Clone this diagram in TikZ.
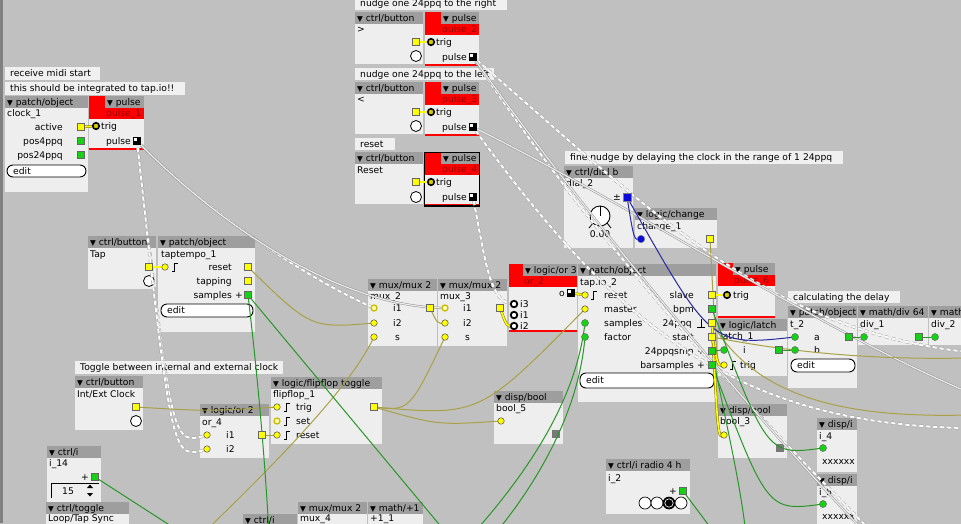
\documentclass[tikz,border=0pt]{standalone}
\usepackage{fontspec}
\setmainfont{DejaVu Sans}
\usetikzlibrary{calc}
\pgfdeclarelayer{bg}
\pgfdeclarelayer{top}
\pgfsetlayers{bg,main,top}
\definecolor{patchbg}{RGB}{192,192,192}
\definecolor{objfill}{RGB}{238,238,238}
\definecolor{hdrfill}{RGB}{158,158,158}
\definecolor{cmtfill}{RGB}{240,240,240}
\definecolor{axred}{RGB}{255,0,0}
\definecolor{idred}{RGB}{150,0,0}
\definecolor{portY}{RGB}{255,255,0}
\definecolor{portG}{RGB}{20,210,20}
\definecolor{portB}{RGB}{10,10,220}
\definecolor{wireO}{RGB}{168,162,70}
\definecolor{wireG}{RGB}{40,150,40}
\definecolor{wireB}{RGB}{40,40,160}
\definecolor{edgeY}{RGB}{130,120,0}
\definecolor{ringY}{RGB}{200,190,0}
\definecolor{trigY}{RGB}{215,200,0}
\definecolor{dispsq}{RGB}{120,120,120}
\definecolor{leftstrip}{RGB}{128,128,128}

\newcommand\axfs{\fontsize{9.2}{11}\selectfont}
\newcommand\axtri{{\fontsize{7.5}{7.5}\selectfont ▼}}

\tikzset{
 ltxt/.style={anchor=base west, yshift=-3.2pt, inner sep=0pt, font=\axfs, text=black},
 rtxt/.style={anchor=base east, yshift=-3.2pt, inner sep=0pt, font=\axfs, text=black},
 ctxt/.style={anchor=base, yshift=-3.2pt, inner sep=0pt, font=\axfs, text=black},
 ptY/.style={circle, draw=black!70, fill=portY, line width=0.5pt, inner sep=0pt, minimum size=6.5pt},
 ptYo/.style={circle, draw=ringY, fill=white!70!yellow, line width=1.3pt, inner sep=0pt, minimum size=6pt},
 sqY/.style={rectangle, draw=black!60, fill=portY, line width=0.5pt, inner sep=0pt, minimum size=7pt},
 ptG/.style={circle, draw=black!60, fill=portG, line width=0.5pt, inner sep=0pt, minimum size=7pt},
 sqG/.style={rectangle, draw=black!60, fill=portG, line width=0.5pt, inner sep=0pt, minimum size=7pt},
 ptB/.style={circle, draw=black!50, fill=portB, line width=0.5pt, inner sep=0pt, minimum size=7.5pt},
 sqB/.style={rectangle, draw=black!50, fill=portB, line width=0.5pt, inner sep=0pt, minimum size=8pt},
 ptK/.style={circle, draw=black, fill=trigY, line width=1.6pt, inner sep=0pt, minimum size=6.5pt},
 ptKw/.style={circle, draw=black, fill=white, line width=1.8pt, inner sep=0pt, minimum size=6.5pt},
 sqK/.style={rectangle, fill=black, inner sep=0pt, minimum size=8pt,
   path picture={\fill[white] ([xshift=1.2pt,yshift=-1.2pt]path picture bounding box.north west) rectangle ++(3pt,-3pt);}},
 btncirc/.style={circle, draw=black, fill=white, line width=0.8pt, inner sep=0pt, minimum size=11pt},
 knobcirc/.style={circle, draw=black, fill=white, line width=0.9pt, inner sep=0pt, minimum size=20pt},
 radiocirc/.style={circle, draw=black, fill=white, line width=0.7pt, inner sep=0pt, minimum size=12pt},
 wol/.style={draw=wireO, line width=1pt},
 wgr/.style={draw=wireG, line width=1pt},
 wbl/.style={draw=wireB, line width=1pt},
 ywire/.style={draw=edgeY, double=portY, double distance=1.6pt, line width=0.5pt},
 wdash/.style={draw=white, line width=2pt, dash pattern=on 4pt off 3pt,
   preaction={draw=gray!75, line width=3pt, dash pattern=on 4pt off 3pt}},
 wgd/.style={draw=gray!85, double=gray!15, double distance=1.2pt, line width=0.5pt},
}

\newcommand\axobj[6]{%
 \begin{scope}
 \clip (#2,#3) rectangle (#4,#5);
 \fill[objfill] (#2,#3) rectangle (#4,#5);
 \fill[hdrfill] (#2,#3) rectangle (#4,{#3+12});
 \node[ltxt] (#1) at ({#2+2},{#3+6}) {\axtri\ #6};
 \end{scope}}
\newcommand\axred[8]{%
 \begin{scope}
 \clip (#2,#3) rectangle (#4,#5);
 \fill[objfill] (#2,#3) rectangle (#4,#5);
 \fill[hdrfill] (#2,#3) rectangle (#4,{#3+12});
 \fill[axred] (#2,#3) rectangle ({#2+#8},{#3+12});
 \fill[axred] (#2,{#3+12}) rectangle (#4,{#3+23});
 \node[ltxt] (#1) at ({#2+#8+2},{#3+6}) {\axtri\ #6};
 \node[ltxt, text=idred] (#1id) at ({#2+#8+1},{#3+17.5}) {#7};
 \end{scope}
 \draw[axred, line width=1.3pt] (#2,{#5-1}) -- (#4,{#5-1});}
\newcommand\axlbl[4]{\node[ltxt] (#1) at (#2,#3) {#4};}
\newcommand\axrlbl[4]{\node[rtxt] (#1) at (#2,#3) {#4};}
\newcommand\axcmt[6]{\fill[cmtfill] (#2,#3) rectangle (#4,#5); \node[ltxt] (#1) at ({#2+5},{(#3+#5)/2}) {#6};}
\newcommand\axport[4]{\node[#1] (#2) at (#3,#4) {};}
\newcommand\axbtn[3]{\node[btncirc] (#1) at (#2,#3) {};}
\newcommand\axedit[5]{\draw[fill=white, rounded corners=6pt, line width=0.9pt] (#2,#3) rectangle (#4,#5); \node[ltxt] (#1) at ({#2+6},{(#3+#5)/2}) {edit};}
\newcommand\axrise[2]{\draw[line width=0.7pt] ({#1},{#2+4}) -- ({#1+2},{#2+4}) -- ({#1+2},{#2-4}) -- ({#1+6},{#2-4});}
\newcommand\axpulse[2]{\draw[line width=0.7pt] ({#1-4},{#2+4}) -- ({#1+4},{#2+4}) ({#1},{#2+4}) -- ({#1},{#2-4});}
\newcommand\axwire[3]{\draw[#1] let \p1=(#2), \p2=(#3),
 \n1={0.5*(\x1+\x2)}, \n2={min(\y1,\y2)-0.03*(abs(\x2-\x1)+abs(\y2-\y1))}
 in (\p1) .. controls (\n1,\n2) and (\n1,\n2) .. (\p2);}

\begin{document}
\begin{tikzpicture}[x=1pt,y=-1pt]
\useasboundingbox (0,0) rectangle (961,523);
\begin{pgfonlayer}{bg}
\fill[patchbg] (-5,-5) rectangle (970,545);
\fill[leftstrip] (0,0) rectangle (2.5,523);

% comments
\axcmt{cmA}{5}{67}{100}{80}{receive midi start}
\axcmt{cmB}{5}{82}{185}{95}{this should be integrated to tap.io!!}
\axcmt{cmC}{355}{-3}{507}{10}{nudge one 24ppq to the right}
\axcmt{cmD}{355}{68}{494}{80}{nudge one 24ppq to the left}
\axcmt{cmE}{355}{138}{395}{150}{reset}
\axcmt{cmF}{565}{151}{843}{164}{fine nudge by delaying the clock in the range of 1 24ppq}
\axcmt{cmG}{75}{361}{283}{374}{Toggle between internal and external clock}
\axcmt{cmH}{788}{291}{900}{303}{calculating the delay}

% clock_1
\axobj{clkH}{5}{96}{88}{192}{patch/object}
\axlbl{clkN}{7}{113}{clock\_1}
\axrlbl{clkA}{63}{127}{active}
\axrlbl{clkB}{63}{141}{pos4ppq}
\axrlbl{clkC}{63}{155}{pos24ppq}
\axedit{clkE}{7}{165}{86}{177}

% pulse_1
\axred{pA}{89}{96}{144}{150}{pulse}{pulse\_1}{16}
\axlbl{pAT}{101}{126}{trig}
\axrlbl{pAP}{131}{141}{pulse}

% nudge right
\axobj{bRH}{355}{12}{423}{64}{ctrl/button}
\axlbl{bRN}{357}{29}{>}
\axbtn{bRc}{416}{56}
\axred{pB}{425}{12}{479}{66}{pulse}{pulse\_2}{16}
\axlbl{pBT}{436}{42}{trig}
\axrlbl{pBP}{467}{57}{pulse}

% nudge left
\axobj{bLH}{355}{82}{423}{134}{ctrl/button}
\axlbl{bLN}{357}{99}{<}
\axbtn{bLc}{416}{126}
\axred{pC}{425}{82}{479}{136}{pulse}{pulse\_3}{16}
\axlbl{pCT}{436}{112}{trig}
\axrlbl{pCP}{467}{127}{pulse}

% reset
\axobj{bSH}{355}{152}{423}{204}{ctrl/button}
\axlbl{bSN}{357}{170}{Reset}
\axbtn{bSc}{416}{197}
\axred{pD}{425}{152}{479}{206}{pulse}{pulse\_4}{16}
\draw[line width=1.4pt] (424.5,152.5) rectangle (479.5,206);
\axlbl{pDT}{436}{182}{trig}
\axrlbl{pDP}{467}{197}{pulse}

% dial
\axobj{dlH}{564}{166}{633}{248}{ctrl/dial b}
\axlbl{dlN}{566}{183}{dial\_2}
\axrlbl{dlPM}{621}{197}{±}
\node[knobcirc] (knob) at (600,216) {};
\draw[line width=0.8pt] (knob.center) -- (knob.north);
\draw[line width=0.8pt] (593,223) -- (589,228) (607,223) -- (611,228);
\node[ctxt] (dlV) at (600,234) {0.00};

% change
\axobj{chH}{635}{208}{717}{248}{logic/change}
\axlbl{chN}{637}{226}{change\_1}

% Tap
\axobj{tpH}{88}{236}{156}{289}{ctrl/button}
\axlbl{tpN}{90}{254}{Tap}
\axbtn{tpc}{149}{281}

% taptempo
\axobj{ttH}{158}{236}{255}{332}{patch/object}
\axlbl{ttN}{161}{254}{taptempo\_1}
\axrise{172}{267}
\axrlbl{ttL1}{232}{267}{reset}
\axrlbl{ttL2}{232}{281}{tapping}
\axrlbl{ttL3}{232}{295}{samples}
\axlbl{ttPl}{235}{295}{+}
\axedit{ttE}{161}{304}{253}{317}

% mux_2
\axobj{mAH}{368}{279}{437}{346}{mux/mux 2}
\axlbl{mAN}{370}{296}{mux\_2}
\axlbl{mAL1}{393}{308}{i1}
\axlbl{mAL2}{393}{323}{i2}
\axlbl{mAL3}{395}{337}{s}
% mux_3
\axobj{mBH}{438}{279}{507}{346}{mux/mux 2}
\axlbl{mBN}{440}{296}{mux\_3}
\axlbl{mBL1}{463}{308}{i1}
\axlbl{mBL2}{463}{323}{i2}
\axlbl{mBL3}{465}{337}{s}

% or_2
\axred{oB}{509}{264}{577}{332}{logic/or 3}{or\_2}{14}
\axrlbl{oBL}{565}{293}{o}
\axlbl{oBL3}{520}{304}{i3}
\axlbl{oBL1}{520}{315}{i1}
\axlbl{oBL2}{520}{326}{i2}

% tap.io
\axobj{tiH}{578}{264}{716}{402}{patch/object}
\axlbl{tiN}{580}{282}{tap.io\_2}
\axrise{591}{295}
\axlbl{tiR}{604}{295}{reset}
\axlbl{tiM}{604}{309}{master}
\axlbl{tiS}{604}{323}{samples}
\axlbl{tiF}{604}{337}{factor}
\axrlbl{tiO1}{694}{295}{slave}
\axrlbl{tiO2}{694}{309}{bpm}
\axrlbl{tiO3}{692}{323}{24ppq}
\axpulse{701}{323}
\axrlbl{tiO4}{694}{337}{start}
\axrlbl{tiO5}{694}{351}{24ppqsmp}
\axlbl{tiP5}{697}{351}{+}
\axrlbl{tiO6}{694}{365}{barsamples}
\axlbl{tiP6}{697}{365}{+}
\axedit{tiE}{580}{373}{714}{388}

% pulse_6
\axred{pF}{718}{263}{775}{318}{pulse}{pulse\_6}{15}
\axlbl{pFT}{733}{295}{trig}

% latch
\axobj{laH}{718}{319}{787}{376}{logic/latch}
\axlbl{laN}{720}{336}{latch\_1}
\axlbl{laI}{743}{350}{i}
\axrise{730}{365}
\axlbl{laT}{740}{365}{trig}

% t_2, div_1, div_2
\axobj{tbH}{788}{306}{857}{388}{patch/object}
\axlbl{tbN}{790}{324}{t\_2}
\axlbl{tbA}{814}{337}{a}
\axlbl{tbB}{814}{350}{b}
\axedit{tbE}{791}{359}{855}{372}
\axobj{dAH}{858}{306}{928}{345}{math/div 64}
\axlbl{dAN}{860}{324}{div\_1}
\axobj{dBH}{929}{306}{975}{345}{math}
\axlbl{dBN}{931}{324}{div\_2}

% bool_3
\axobj{bCH}{718}{404}{787}{458}{disp/bool}
\axlbl{bCN}{720}{421}{bool\_3}
\fill[dispsq] (776,444) rectangle (784,452);

% i_4, i_5
\axobj{iDH}{817}{418}{857}{472}{disp/i}
\axlbl{iDN}{819}{436}{i\_4}
\begin{scope}\clip (817,418) rectangle (857,472);\axlbl{iDX}{822}{461}{xxxxxx}\end{scope}
\axobj{iEH}{817}{474}{857}{535}{disp/i}
\axlbl{iEN}{819}{492}{i\_5}
\begin{scope}\clip (817,474) rectangle (857,535);\axlbl{iEX}{822}{516}{xxxxxx}\end{scope}

% bool_5
\axobj{bEH}{494}{391}{563}{444}{disp/bool}
\axlbl{bEN}{496}{408}{bool\_5}
\fill[dispsq] (552,430) rectangle (560,438);

% flipflop
\axobj{ffH}{271}{377}{382}{444}{logic/flipflop toggle}
\axlbl{ffN}{273}{394}{flipflop\_1}
\axrise{284}{407}
\axlbl{ffL1}{296}{407}{trig}
\axrise{284}{421}
\axlbl{ffL2}{296}{421}{set}
\axrise{284}{435}
\axlbl{ffL3}{296}{435}{reset}

% or_4
\axobj{oDH}{200}{404}{269}{458}{logic/or 2}
\axlbl{oDN}{202}{422}{or\_4}
\axlbl{oDL1}{226}{435}{i1}
\axlbl{oDL2}{226}{449}{i2}

% Int/Ext
\axobj{ieH}{75}{376}{143}{430}{ctrl/button}
\axlbl{ieN}{77}{394}{Int/Ext Clock}
\axbtn{iec}{136}{421}

% i_14
\axobj{iFH}{47}{446}{101}{503}{ctrl/i}
\axlbl{iFN}{49}{463}{i\_14}
\axrlbl{iFP}{89}{477}{+}
\draw[line width=0.8pt] (51,498) -- (51,483) -- (99,483);
\axlbl{iFV}{62}{491}{15}
\fill (87,488) -- (93,488) -- (90,484.5) -- cycle;
\fill (87,493) -- (93,493) -- (90,496.5) -- cycle;

% toggle and bottom row
\axobj{tgH}{46}{502}{129}{540}{ctrl/toggle}
\axlbl{tgN}{48}{518.5}{Loop/Tap Sync}
\axobj{ciH}{243}{514}{297}{560}{ctrl/i}
\axobj{mCH}{298}{502}{367}{560}{mux/mux 2}
\axlbl{mCN}{300}{518.5}{mux\_4}
\axobj{pmH}{368}{502}{423}{560}{math/+1}
\axlbl{pmN}{370}{518.5}{+1\_1}

% i_2 radio
\axobj{rdH}{606}{459}{690}{514}{ctrl/i radio 4 h}
\axlbl{rdN}{608}{478}{i\_2}
\axrlbl{rdP}{677}{491}{+}
\node[radiocirc] (rda) at (645,503) {};
\node[radiocirc] (rdb) at (657,503) {};
\node[radiocirc, fill=black] (rdc) at (669,503) {};
\draw[white, line width=0.6pt] (rdc.center) circle (4.2pt);
\node[radiocirc] (rdd) at (681,503) {};
\end{pgfonlayer}

% ports
\begin{pgfonlayer}{top}
\axport{sqY}{c1act}{81}{127}
\axport{sqG}{c1p4}{81}{141}
\axport{sqG}{c1p24}{81}{155}
\axport{ptK}{p1trig}{96}{126}
\axport{sqK}{p1out}{137}{141}
\axport{sqY}{b2out}{416}{42}
\axport{ptK}{p2trig}{431}{42}
\axport{sqK}{p2out}{473}{57}
\axport{sqY}{b3out}{416}{112}
\axport{ptK}{p3trig}{431}{112}
\axport{sqK}{p3out}{473}{127}
\axport{sqY}{b4out}{416}{182}
\axport{ptK}{p4trig}{431}{182}
\axport{sqK}{p4out}{473}{197}
\axport{sqB}{dOut}{627}{197}
\axport{ptB}{chIn}{641}{239}
\axport{sqY}{chOut}{710}{239}
\axport{sqY}{tapOut}{149}{267}
\axport{ptY}{ttIn}{165}{267}
\axport{sqY}{ttRes}{248}{267}
\axport{sqY}{ttTap}{248}{281}
\axport{sqG}{ttSam}{248}{295}
\axport{ptYo}{m2i1}{374}{308}
\axport{ptY}{m2i2}{374}{323}
\axport{ptY}{m2s}{374}{337}
\axport{sqY}{m2o}{430}{308}
\axport{ptYo}{m3i1}{445}{308}
\axport{ptY}{m3i2}{445}{323}
\axport{ptY}{m3s}{445}{337}
\axport{sqY}{m3o}{500}{308}
\axport{sqK}{o2o}{571}{293}
\axport{ptKw}{o2i3}{514}{304}
\axport{ptKw}{o2i1}{514}{315}
\axport{ptKw}{o2i2}{514}{326}
\axport{ptY}{tRes}{585}{295}
\axport{ptY}{tMas}{585}{309}
\axport{ptG}{tSam}{585}{323}
\axport{ptG}{tFac}{585}{337}
\axport{sqY}{tSla}{712}{295}
\axport{sqG}{tBpm}{712}{309}
\axport{sqY}{t24}{712}{323}
\axport{sqY}{tSta}{712}{337}
\axport{sqG}{t24s}{712}{351}
\axport{sqG}{tBar}{712}{365}
\axport{ptK}{p6trig}{727}{295}
\axport{ptG}{lIn}{724}{350}
\axport{sqG}{lOut}{779}{350}
\axport{ptY}{lTrig}{724}{365}
\axport{ptG}{tAa}{795}{337}
\axport{ptG}{tAb}{795}{350}
\axport{sqG}{tAo}{849}{337}
\axport{ptG}{d1i}{864}{337}
\axport{sqG}{d1o}{919}{337}
\axport{ptG}{d2i}{935}{337}
\axport{ptY}{b3in}{724}{435}
\axport{ptG}{i4in}{823}{448}
\axport{ptG}{i5in}{823}{504}
\axport{ptY}{b5in}{501}{421}
\axport{ptY}{ffTrig}{277}{407}
\axport{ptYo}{ffSet}{277}{421}
\axport{ptY}{ffRes}{277}{435}
\axport{sqY}{ffOut}{374}{407}
\axport{ptY}{o4i1}{207}{435}
\axport{ptY}{o4i2}{207}{449}
\axport{sqY}{o4o}{262}{435}
\axport{sqY}{ieOut}{136}{407}
\axport{sqG}{i14o}{95}{477}
\axport{sqG}{i2o}{683}{491}
\end{pgfonlayer}

% free ends beyond the visible area
\coordinate (togOut) at (191,545);
\coordinate (offO1) at (968,358);
\coordinate (offO2) at (968,415);
\coordinate (offG1) at (269,535);
\coordinate (offG2) at (448,535);
\coordinate (offG3) at (185,535);
\coordinate (offG4) at (716,535);
\coordinate (offG5) at (472,535);
\coordinate (offG6) at (494,535);
\coordinate (offG7) at (746,535);
\coordinate (offW4) at (968,352);
\coordinate (offW5) at (968,428);
\coordinate (offW7) at (880,540);
\coordinate (offD1) at (872,540);
\coordinate (offD2) at (968,392);

% white dashed wires
\axwire{wdash}{p1out}{o4i1}
\axwire{wdash}{p1out}{o4i2}
\draw[wdash] (p1out) .. controls (200,205) and (300,275) .. (m2i1);
\draw[wdash] (p2out) .. controls (640,200) and (760,330) .. (offW4);
\draw[wdash] (p3out) .. controls (620,330) and (740,425) .. (offW5);
\draw[wdash] (p2out) .. controls (600,250) and (760,420) .. (offW7);
\draw[wdash] (p4out) .. controls (485,260) and (490,300) .. (o2i3);
% grey double wires
\draw[wgd] (p2out) .. controls (560,180) and (720,380) .. (offD1);
\draw[wgd] (p3out) .. controls (640,210) and (820,330) .. (offD2);
\draw[wgd] (p1out) .. controls (210,215) and (330,305) .. (m3i1);

% olive bool wires
\axwire{wol}{ttRes}{m2i2}
\axwire{wol}{m2o}{m3i2}
\axwire{wol}{ieOut}{ffTrig}
\axwire{wol}{o4o}{ffRes}
\axwire{wol}{ffOut}{b5in}
\axwire{wol}{ffOut}{tMas}
\axwire{wol}{ffOut}{m3s}
\axwire{wol}{chOut}{lTrig}
\draw[wol] (togOut) .. controls (290,450) and (350,385) .. (m2s);
\draw[wol] (tSta) .. controls (790,352) and (870,360) .. (offO1);
\draw[wol] (t24) .. controls (760,400) and (850,418) .. (offO2);

% green int wires
\axwire{wgr}{tBpm}{i4in}
\axwire{wgr}{tBar}{i5in}
\draw[wgr] (t24s) -- (lIn);
\draw[wgr] (lOut) -- (tAb);
\draw[wgr] (tAo) -- (d1i);
\draw[wgr] (d1o) -- (d2i);
\draw[wgr] (t24s) .. controls (725,420) and (740,480) .. (offG7);
\draw[wgr] (ttSam) .. controls (258,380) and (265,460) .. (offG1);
\draw[wgr] (ttSam) -- (offG2);
\draw[wgr] (i14o) -- (offG3);
\draw[wgr] (i2o) -- (offG4);
\draw[wgr] (tSam) .. controls (575,400) and (530,470) .. (offG5);
\draw[wgr] (tFac) .. controls (578,410) and (540,480) .. (offG6);

% blue frac wires
\axwire{wbl}{dOut}{chIn}
\axwire{wbl}{dOut}{tAa}

% highlighted yellow wires
\axwire{ywire}{m3o}{o2i2}
\axwire{ywire}{t24}{b3in}
\axwire{ywire}{tSta}{lTrig}
\foreach \a/\b in {c1act/p1trig, b2out/p2trig, b3out/p3trig, b4out/p4trig, tapOut/ttIn, tSla/p6trig, o2o/tRes}
  \draw[ywire] (\a) -- (\b);
\end{tikzpicture}
\end{document}
